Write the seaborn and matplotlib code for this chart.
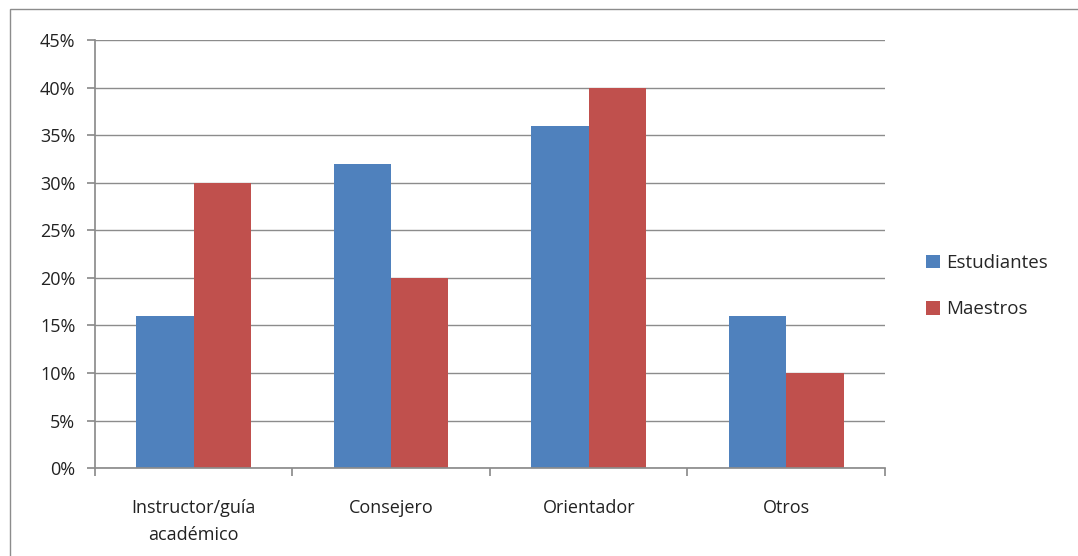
import pandas as pd
import matplotlib.pyplot as plt
import seaborn as sns
from matplotlib.patches import Rectangle
from matplotlib.ticker import MultipleLocator, PercentFormatter

# Data
categories = ['Instructor/guía\nacadémico', 'Consejero', 'Orientador', 'Otros']
estudiantes = [16, 32, 36, 16]
maestros = [30, 20, 40, 10]
series_names = ['Estudiantes', 'Maestros']

df = pd.DataFrame({
    'Categoria': categories * 2,
    'Grupo': [series_names[0]] * 4 + [series_names[1]] * 4,
    'Valor': estudiantes + maestros,
})

sns.set_theme(style="white")
plt.rcParams['font.family'] = ['Open Sans', 'DejaVu Sans']

fig = plt.figure(figsize=(10.78, 5.56), dpi=100)
ax = fig.add_axes([0.088, 0.158, 0.733, 0.770])

sns.barplot(
    ax=ax, data=df, x='Categoria', y='Valor', hue='Grupo',
    palette=['#4F81BD', '#C0504D'], width=0.58, gap=0, saturation=1,
    linewidth=0,
)

ax.set_ylim(0, 45)
ax.set_xlim(-0.5, 3.5)
ax.yaxis.set_major_locator(MultipleLocator(5))
ax.yaxis.set_major_formatter(PercentFormatter(decimals=0))
ax.set_xlabel('')
ax.set_ylabel('')

ax.grid(axis='y', color='#8c8c8c', linewidth=1)
ax.set_axisbelow(True)
for side in ['top', 'right']:
    ax.spines[side].set_visible(False)
for side in ['left', 'bottom']:
    ax.spines[side].set_color('#8c8c8c')

# x ticks between categories, labels centred on categories
ax.set_xticks([-0.5, 0.5, 1.5, 2.5, 3.5])
ax.set_xticklabels([])
ax.set_xticks([0, 1, 2, 3], minor=True)
ax.set_xticklabels(categories, minor=True, fontsize=13, color='#222222', linespacing=1.65)
ax.tick_params(axis='x', which='major', direction='out', length=6, color='#8c8c8c', bottom=True)
ax.tick_params(axis='x', which='minor', length=0, pad=22)
ax.tick_params(axis='y', direction='out', length=6, color='#8c8c8c', left=True,
               labelsize=13, labelcolor='#222222', pad=8)

ax.legend(loc='center left', bbox_to_anchor=(1.03, 0.425), frameon=False,
          fontsize=13.5, handlelength=0.75, handleheight=0.75, labelspacing=1.5, handletextpad=0.35)

fig.patches.append(Rectangle((0.009, -0.01), 1.0, 0.993, transform=fig.transFigure,
                             fill=False, edgecolor='#8c8c8c', linewidth=1))

plt.savefig('out.png', dpi=100)
